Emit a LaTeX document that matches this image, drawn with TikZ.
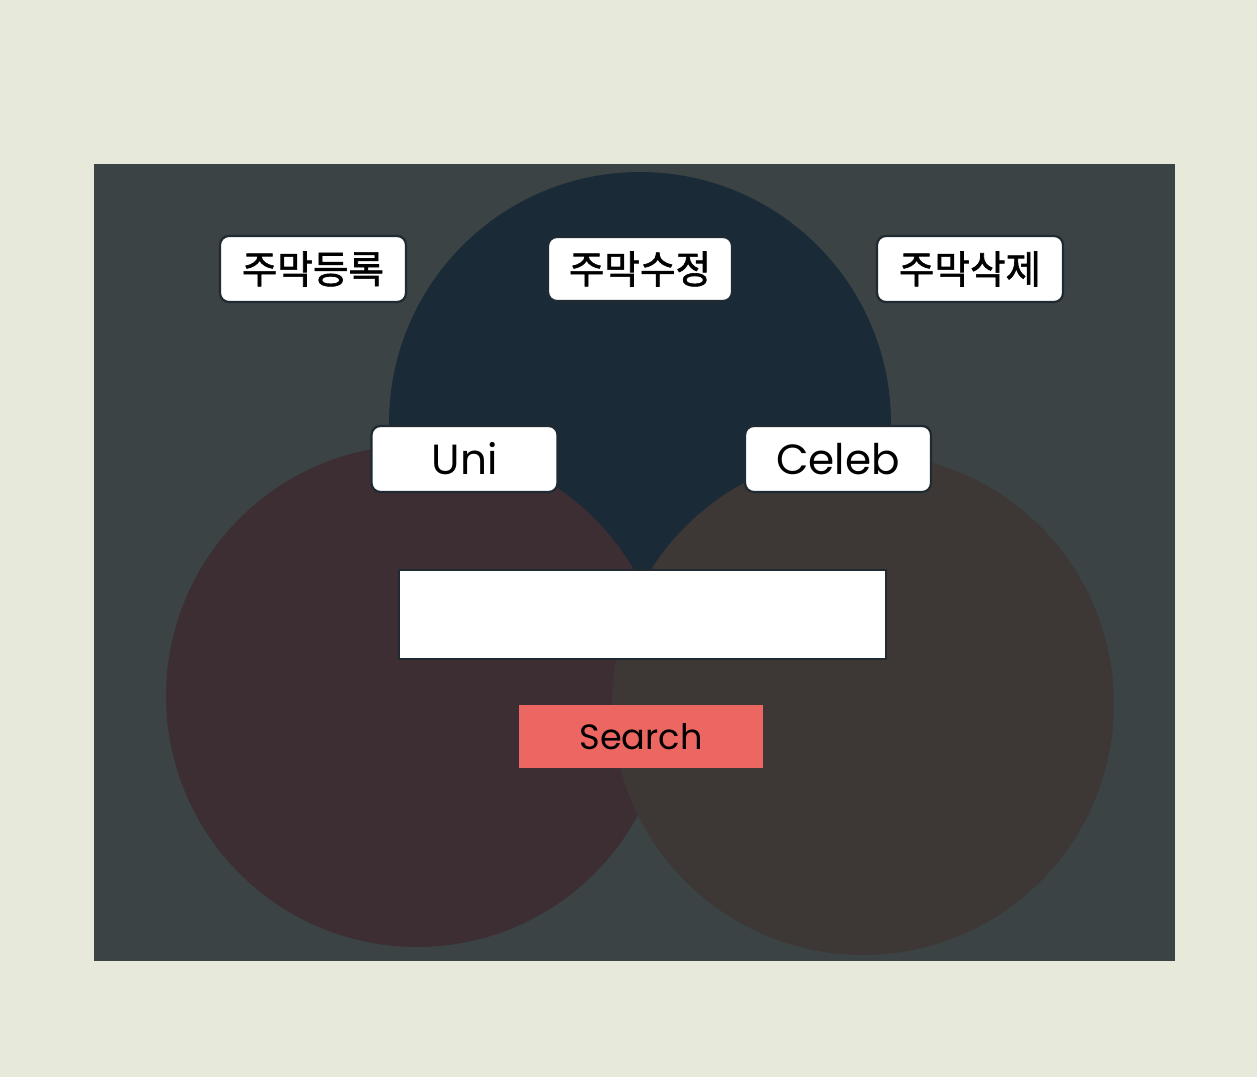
\documentclass[tikz,border=0pt]{standalone}
\usepackage{fontspec}
\usepackage{xcolor}
\setmainfont{Poppins}
\newfontfamily\kofont[FakeBold=1.6]{Noto Sans CJK KR}
\usetikzlibrary{positioning, backgrounds}
\definecolor{PageBeige}{RGB}{231, 233, 219}
\definecolor{PanelGray}{RGB}{59, 67, 69}
\definecolor{CircleNavy}{RGB}{27, 42, 55}
\definecolor{CirclePlum}{RGB}{60, 46, 51}
\definecolor{CircleBrown}{RGB}{61, 56, 54}
\definecolor{EdgeDark}{RGB}{31, 42, 51}
\definecolor{SearchRed}{RGB}{236, 103, 98}

\begin{document}
\begin{tikzpicture}[
    x=0.02cm, y=-0.02cm,
    % Styles
    menubtn/.style={rectangle, rounded corners=5pt, line width=1.3pt, minimum width=3.72cm, minimum height=1.32cm, align=center, draw=EdgeDark, fill=white, text=black, font=\kofont\fontsize{22}{25}\selectfont},
    tagbtn/.style={menubtn, font=\fontsize{24}{28}\selectfont},
    inputbox/.style={rectangle, line width=1.2pt, minimum width=9.74cm, minimum height=1.78cm, draw=EdgeDark, fill=white},
    searchbtn/.style={rectangle, draw=none, minimum width=4.88cm, minimum height=1.26cm, fill=SearchRed, text=black, font=\fontsize{20}{24}\selectfont}
]

% Page and panel
\useasboundingbox (0,0) rectangle (1257,1077);
\fill[PageBeige] (0,0) rectangle (1257,1077);
\fill[PanelGray] (94,164) rectangle (1175,961);

% Circles
\fill[CircleNavy] (640,423) circle[radius=5.02cm];
\fill[CirclePlum] (417,696) circle[radius=5.02cm];
\fill[CircleBrown] (863,704) circle[radius=5.02cm];

% Menu buttons
\node[menubtn] (reg_btn) at (313,269) {주막등록};
\node[menubtn, minimum width=3.68cm, minimum height=1.28cm] (edit_btn) at (640,269) {주막수정};
\node[menubtn] (del_btn) at (970,269) {주막삭제};

% Tag buttons
\node[tagbtn] (uni_btn) at (464.5,459) {Uni};
\node[tagbtn] (celeb_btn) at (838,459) {Celeb};

% Search field
\node[inputbox] (query_box) at (642.5,614.5) {};
\node[searchbtn] (search_btn) at (641,736.5) {Search};

\end{tikzpicture}
\end{document}
